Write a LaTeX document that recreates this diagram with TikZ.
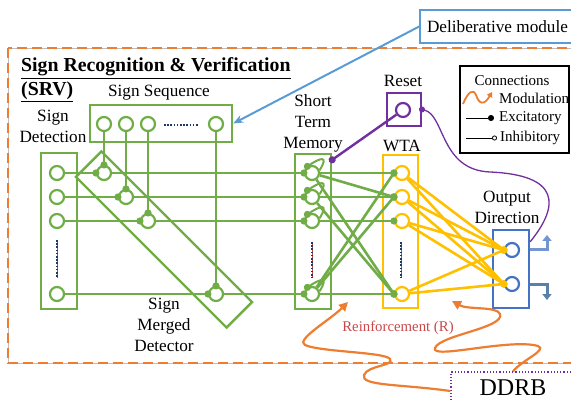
\documentclass[tikz,border=0pt]{standalone}
\usepackage{fontspec}
\setmainfont{Liberation Serif}
\usepackage{xcolor}
\usepackage{tikz}
\usetikzlibrary{arrows.meta, positioning}
\definecolor{srvgreen}{HTML}{70AD47}
\definecolor{srvyellow}{HTML}{FFC000}
\definecolor{srvblue}{HTML}{4472C4}
\definecolor{srvlight}{HTML}{5B9BD5}
\definecolor{srvpurple}{HTML}{7030A0}
\definecolor{srvorange}{HTML}{ED7D31}
\definecolor{srvred}{HTML}{C8484A}
\definecolor{srvnavy}{HTML}{1F3864}
\definecolor{srvslate}{HTML}{5A7FA8}

\begin{document}
\begin{tikzpicture}[
      x=1pt, y=-1pt,
      every node/.style={font=\fontsize{17.2}{21}\selectfont, align=center, inner sep=0pt},
      nrn/.style={circle, draw, line width=2.2pt, fill=white, minimum size=14pt, inner sep=0pt},
      grp/.style={rectangle, draw, line width=2.4pt},
      gline/.style={draw=srvgreen, line width=2.6pt},
      yline/.style={draw=srvyellow, line width=2.6pt},
      exc/.style={-{Circle[length=7pt]}, shorten >=-3.5pt},
      mod/.style={draw=srvorange, line width=2.2pt, -{Triangle[length=9pt, width=9pt]}},
      dots/.style={line width=2.4pt, dash pattern=on 1.6pt off 1.6pt},
      frame/.style={draw=srvorange, line width=1.8pt, dash pattern=on 10pt off 5pt,
        preaction={draw=black!25, line width=0.6pt}}
    ]
    \useasboundingbox (0,0) rectangle (571,401);

    % module borders
    \draw[frame] (8,48) rectangle (580,363);
    \node[draw=srvlight, line width=1.6pt, minimum width=155pt, minimum height=33pt] (delib)
      at (497.5,26.5) {Deliberative module};
    \node[draw=srvpurple, dotted, line width=1.2pt, minimum width=124pt, minimum height=32pt,
      font=\fontsize{24}{28}\selectfont] (ddrb) at (513,388) {DDRB};

    \node[anchor=base west, font=\fontsize{19.8}{24}\selectfont\bfseries] (title) at (21,72)
      {\underline{Sign Recognition \& Verification}};
    \node[anchor=base west, font=\fontsize{19.8}{24}\selectfont\bfseries] (srv) at (21,96)
      {\underline{(SRV)}};

    % groups
    \node[grp, draw=srvgreen, minimum width=36pt, minimum height=156pt] (detbox) at (59,231) {};
    \node[grp, draw=srvgreen, minimum width=142pt, minimum height=37pt] (seqbox) at (161,123.5) {};
    \node[grp, draw=srvgreen, minimum width=213pt, minimum height=36pt, rotate=-45] (mrgbox) at (164,239.5) {};
    \node[grp, draw=srvgreen, minimum width=36pt, minimum height=155pt] (stmbox) at (313,231.5) {};
    \node[grp, draw=srvyellow, minimum width=35pt, minimum height=153pt] (wtabox) at (400.5,231.5) {};
    \node[grp, draw=srvblue, minimum width=36pt, minimum height=78pt] (outbox) at (511,269) {};
    \node[grp, draw=srvpurple, line width=2pt, minimum width=34pt, minimum height=33pt] (resetbox) at (404,109.5) {};

    \node (detlbl) at (53,126.5) {Sign\\Detection};
    \node[anchor=base] (seqlbl) at (159,97) {Sign Sequence};
    \node (mrglbl) at (164,325) {Sign\\Merged\\Detector};
    \node (stmlbl) at (313,123) {Short\\Term\\Memory};
    \node[anchor=base] (rstlbl) at (403,87) {Reset};
    \node[anchor=base] (wtalbl) at (402,152) {WTA};
    \node (outlbl) at (507,207.5) {Output\\Direction};
    \node[anchor=base, text=srvred, font=\fontsize{14.8}{18}\selectfont] (reinf) at (398,331) {Reinforcement (R)};

    % neurons
    \node[nrn, draw=srvgreen] (det1) at (57,173) {};
    \node[nrn, draw=srvgreen] (det2) at (57,197) {};
    \node[nrn, draw=srvgreen] (det3) at (57,221) {};
    \node[nrn, draw=srvgreen] (detn) at (57,294) {};
    \node[nrn, draw=srvgreen] (seq1) at (104,124) {};
    \node[nrn, draw=srvgreen] (seq2) at (126,124) {};
    \node[nrn, draw=srvgreen] (seq3) at (148,124) {};
    \node[nrn, draw=srvgreen] (seqn) at (216,124) {};
    \node[nrn, draw=srvgreen] (mrg1) at (104,173) {};
    \node[nrn, draw=srvgreen] (mrg2) at (126,197) {};
    \node[nrn, draw=srvgreen] (mrg3) at (148,221) {};
    \node[nrn, draw=srvgreen] (mrgn) at (216,294) {};
    \node[nrn, draw=srvgreen] (stm1) at (312,173) {};
    \node[nrn, draw=srvgreen] (stm2) at (312,197) {};
    \node[nrn, draw=srvgreen] (stm3) at (312,221) {};
    \node[nrn, draw=srvgreen] (stmn) at (312,294) {};
    \node[nrn, draw=srvyellow] (wta1) at (402,173) {};
    \node[nrn, draw=srvyellow] (wta2) at (402,197) {};
    \node[nrn, draw=srvyellow] (wta3) at (402,221) {};
    \node[nrn, draw=srvyellow] (wtan) at (402,294) {};
    \node[nrn, draw=srvblue] (out1) at (512,250) {};
    \node[nrn, draw=srvblue] (out2) at (512,284) {};
    \node[nrn, draw=srvpurple] (rst) at (403,110) {};

    % elided neurons
    \draw[dots, srvnavy] (164,125) -- (199,125);
    \draw[dots, srvnavy] (57,240) -- (57,277);
    \draw[dots, srvnavy] (312,242) -- (312,278);
    \draw[dots, srvnavy] (401,242) -- (401,278);
    \draw[dots, srvred, dash phase=1.6pt, line width=1pt] (57,240) -- (57,277);
    \draw[dots, srvred, dash phase=1.6pt, line width=1pt] (312,242) -- (312,278);
    \draw[dots, srvred, dash phase=1.6pt, line width=1pt] (401,242) -- (401,278);

    % detection -> merged -> short term memory
    \draw[gline, exc] (det1) -- (mrg1.west);
    \draw[gline, exc] (det2) -- (mrg2.west);
    \draw[gline, exc] (det3) -- (mrg3.west);
    \draw[gline, exc] (detn) -- (mrgn.west);
    \draw[gline, exc] (seq1) -- (mrg1.north);
    \draw[gline, exc] (seq2) -- (mrg2.north);
    \draw[gline, exc] (seq3) -- (mrg3.north);
    \draw[gline, exc] (seqn) -- (mrgn.north);
    \draw[gline, exc] (mrg1) -- (stm1.west);
    \draw[gline, exc] (mrg2) -- (stm2.west);
    \draw[gline, exc] (mrg3) -- (stm3.west);
    \draw[gline, exc] (mrgn) -- (stmn.west);

    % memory loops
    \draw[srvgreen, line width=2pt, exc] (stm1.20) .. controls +(10,-16) and +(12,-8) .. (stm1.125);
    \draw[srvgreen, line width=2pt, exc] (stm2.20) .. controls +(10,-16) and +(12,-8) .. (stm2.125);
    \draw[srvgreen, line width=2pt, exc] (stm3.20) .. controls +(10,-16) and +(12,-8) .. (stm3.125);
    \draw[srvgreen, line width=2pt, exc] (stmn.20) .. controls +(10,-16) and +(12,-8) .. (stmn.125);

    % memory -> WTA
    \draw[gline, exc] (stm1) -- (wta1.west);
    \draw[gline, exc] (stm1) -- (wta2.west);
    \draw[gline, exc] (stm1) -- (wtan.west);
    \draw[gline, exc] (stm2) -- (wta2.west);
    \draw[gline, exc] (stm2) -- (wtan.west);
    \draw[gline, exc] (stm3) -- (wta3.west);
    \draw[gline, exc] (stmn) -- (wtan.west);
    \draw[gline, exc] (stmn) -- (wta1.west);
    \draw[gline, exc] (stmn) -- (wta2.west);

    % WTA -> output
    \draw[yline, exc] (wta1) -- (out1.west);
    \draw[yline, exc] (wta1) -- (out2.west);
    \draw[yline, exc] (wta2) -- (out1.west);
    \draw[yline, exc] (wta2) -- (out2.west);
    \draw[yline, exc] (wta3) -- (out1.west);
    \draw[yline, exc] (wta3) -- (out2.west);
    \draw[yline, exc] (wtan) -- (out1.west);
    \draw[yline, exc] (wtan) -- (out2.west);

    \coordinate (upend) at (547,235);
    \coordinate (downend) at (547,300);
    \draw[srvblue!75, line width=3pt, -{Triangle[length=6pt, width=9pt]}] (outbox.east |- out1) -| (upend);
    \draw[srvslate, line width=3pt, -{Triangle[length=6pt, width=9pt]}] (outbox.east |- out2) -| (downend);

    % reset
    \draw[srvpurple, line width=2.4pt, exc] (rst) -- ([yshift=-7pt]stmbox.north east);
    \draw[srvpurple, line width=1.3pt, {Circle[length=6pt]}-, shorten <=-3pt] (resetbox.east)
      .. controls (445,115) and (440,170) .. (490,172)
      .. controls (560,175) and (560,205) .. ([yshift=-13pt]outbox.north east);

    % deliberative input
    \draw[srvlight, line width=2pt, -{Stealth[length=10pt, width=8pt]}] (delib.west) -- (seqbox.east);

    % reinforcement
    \coordinate (rstm) at (348,302);
    \coordinate (rwta) at (452,301);
    \draw[mod] ([yshift=-3pt]ddrb.west) .. controls (400,384) and (360,386) .. (364,375)
      .. controls (368,365) and (395,366) .. (390,359)
      .. controls (385,352) and (320,352) .. (305,345)
      .. controls (295,340) and (330,320) .. (rstm);
    \draw[mod] (ddrb.north) .. controls (522,360) and (548,350) .. (538,346)
      .. controls (510,338) and (430,360) .. (435,348)
      .. controls (440,335) and (505,328) .. (500,314)
      .. controls (497,306) and (468,310) .. (rwta);

    % legend
    \node[draw, line width=1.6pt, minimum width=109pt, minimum height=87pt] (legend) at (514.5,109.5) {};
    \node[anchor=base, font=\fontsize{15}{18}\selectfont] (conn) at (512,86) {Connections};
    \node[anchor=west, font=\fontsize{15}{18}\selectfont] (lmod) at (499,98) {Modulation};
    \node[anchor=west, font=\fontsize{15}{18}\selectfont] (lexc) at (499,118) {Excitatory};
    \node[anchor=west, font=\fontsize{15}{18}\selectfont] (linh) at (500,138) {Inhibitory};
    \draw[srvorange, line width=1.8pt, -{Triangle[length=5pt, width=6pt]}] (463,104)
      .. controls (468,92) and (473,88) .. (476,95) .. controls (479,104) and (484,106) .. (492,92);
    \draw[line width=0.8pt, -{Circle[length=6pt]}] ([xshift=-33pt]lexc.west) -- ([xshift=-5pt]lexc.west);
    \draw[line width=0.8pt, -{Circle[open, length=5pt]}] ([xshift=-34pt]linh.west) -- ([xshift=-3pt]linh.west);
  \end{tikzpicture}
\end{document}
